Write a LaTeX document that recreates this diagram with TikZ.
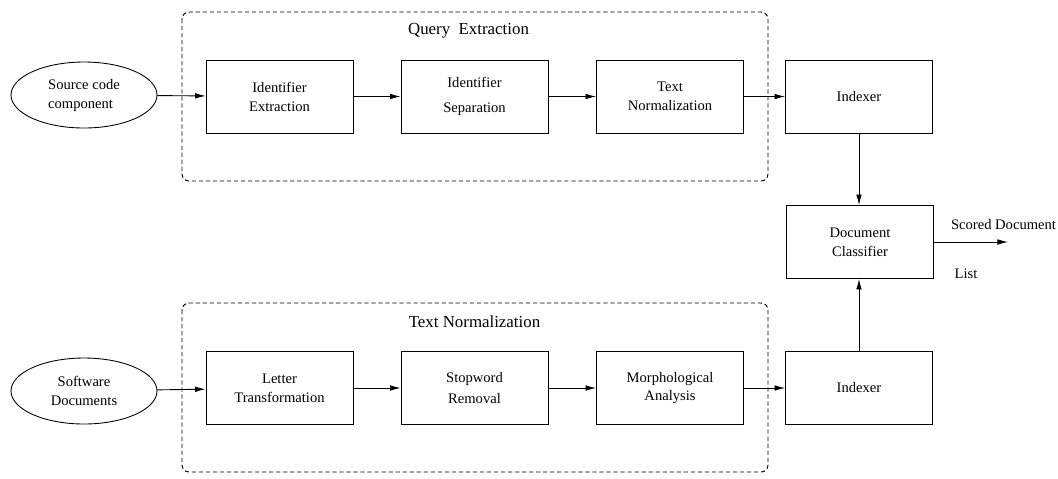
\documentclass[tikz,border=0pt]{standalone}
\usepackage{fontspec}
\setmainfont{Liberation Serif}
\usetikzlibrary{arrows.meta,shapes.geometric}
\begin{document}
\begin{tikzpicture}[x=0.02cm,y=-0.02cm,
  every node/.style={font=\fontsize{8.3}{10.8}\selectfont},
  box/.style={draw,line width=0.5pt,minimum width=2.94cm,minimum height=1.46cm,inner sep=0pt,align=center},
  oval/.style={draw,line width=0.5pt,ellipse,minimum width=2.92cm,minimum height=1.32cm,inner sep=0pt},
  frame/.style={draw,line width=0.55pt,dash pattern=on 2.4pt off 1.6pt,rounded corners=4pt},
  title/.style={font=\fontsize{9.6}{11}\selectfont},
  arr/.style={line width=0.5pt,-{Latex[length=6pt,width=3.2pt]}}]
\useasboundingbox (0,0) rectangle (1058,478);
% frames
\draw[frame] (182,12) rectangle (768,181);
\draw[frame] (182,303) rectangle (768,472);
\node[title] (t1) at (468.5,31) {Query\ \ Extraction};
\node[title] (t2) at (474.5,322) {Text Normalization};
% top row
\node[oval,align=left] (src) at (84,95) {Source code\\component};
\node[box] (ie) at (279.5,96.5) {Identifier\\Extraction};
\node[box] (is) at (474.5,96.5) {Identifier\\[3.4pt]Separation};
\node[box] (tn) at (670,96.5) {Text\\Normalization};
\node[box] (ix1) at (859,96.5) {Indexer};
% classifier
\node[box] (dc) at (860,242) {Document\\Classifier};
\coordinate (out) at (1008,242);
\node (sd) at (1003.5,225) {Scored Document};
\node (ls) at (966,274) {List};
% bottom row
\node[oval,align=center] (sw) at (84,391) {Software\\Documents};
\node[box] (lt) at (279.5,388) {Letter\\Transformation};
\node[box] (sr) at (474.5,388) {Stopword\\[1.7pt]Removal};
\node[box] (ma) at (670,388) {Morphological\\Analysis};
\node[box] (ix2) at (859,388) {Indexer};
% arrows
\draw[arr] (src) -- (ie);
\draw[arr] (ie) -- (is);
\draw[arr] (is) -- (tn);
\draw[arr] (tn) -- (ix1);
\draw[arr] (ix1) -- (ix1|-dc.north);
\draw[arr] (ix2) -- (ix2|-dc.south);
\draw[arr] (dc) -- (out);
\draw[arr] (sw) -- (lt);
\draw[arr] (lt) -- (sr);
\draw[arr] (sr) -- (ma);
\draw[arr] (ma) -- (ix2);
\end{tikzpicture}
\end{document}
